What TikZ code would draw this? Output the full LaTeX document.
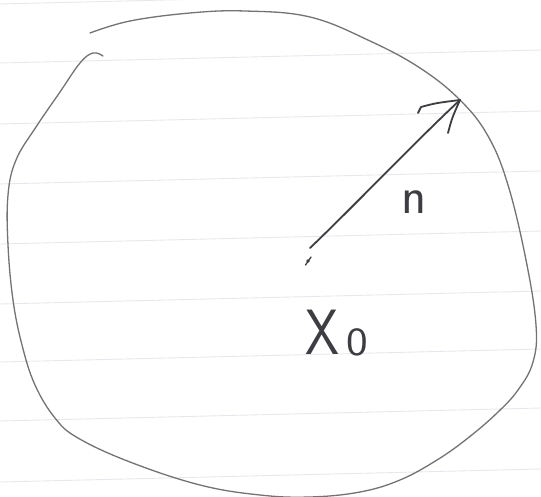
\documentclass[tikz,border=0pt]{standalone}
\definecolor{rulecol}{rgb}{0.90,0.915,0.93}
\definecolor{pen}{rgb}{0.45,0.45,0.46}
\definecolor{ink}{rgb}{0.24,0.24,0.26}
\begin{document}
\begin{tikzpicture}[x=1pt,y=-1pt,
  ruling/.style={draw=rulecol,line width=0.9pt},
  outline/.style={draw=pen,line width=1.3pt,line cap=round,line join=round},
  inkline/.style={draw=ink,line width=1.8pt,line cap=round,line join=round},
  handlabel/.style={text=ink,inner sep=0pt}]
\fill[white] (0,0) rectangle (541,497);
\useasboundingbox (0,0) rectangle (541,497);
\begin{scope}
\clip (0,0) rectangle (541,497);
\foreach \y in {4,63,124,184,244,304,362,421,482}
  \draw[ruling] (0,\y) -- (541,{\y-13});
\end{scope}
% closed hand-drawn curve
\draw[outline] plot[smooth,tension=0.65] coordinates {
  (90,33) (130,21) (190,13) (245,11) (310,17) (370,41) (420,68) (460,100)
  (488,136) (508,185) (526,260) (536,325) (533,362) (518,390) (497,413)
  (468,438) (437,460) (400,480) (360,492) (310,497) (260,495) (200,485)
  (130,462) (78,438) (55,418) (35,385) (22,345) (13,300) (8,245) (8,195)
  (16,160) (36,127) (60,92) (80,63) (93,53) (103,56)};
% centre point and arrow
\coordinate (x0) at (310,248);
\coordinate (tip) at (460,100);
\fill[ink] (308,261) circle (1.8);
\draw[inkline,line width=1.3pt] (305.5,265) -- (311,257);
\draw[inkline] (x0) .. controls (352,208) and (420,137) .. (tip);
\draw[inkline] (418,113) -- (421,107) .. controls (436,103) .. (tip);
\draw[inkline] (448,133) .. controls (452,118) .. (tip);
% labels
\node[handlabel,font=\sffamily\fontsize{52}{52}\selectfont] (nlab) at (414,202) {n};
\node[handlabel,font=\sffamily\fontsize{64}{64}\selectfont,anchor=base west,xscale=0.85] (xlab) at (305,354) {X};
\node[handlabel,font=\sffamily\fontsize{40}{40}\selectfont,anchor=base west,xscale=1.15] (zlab) at (346,355) {0};
\end{tikzpicture}
\end{document}
